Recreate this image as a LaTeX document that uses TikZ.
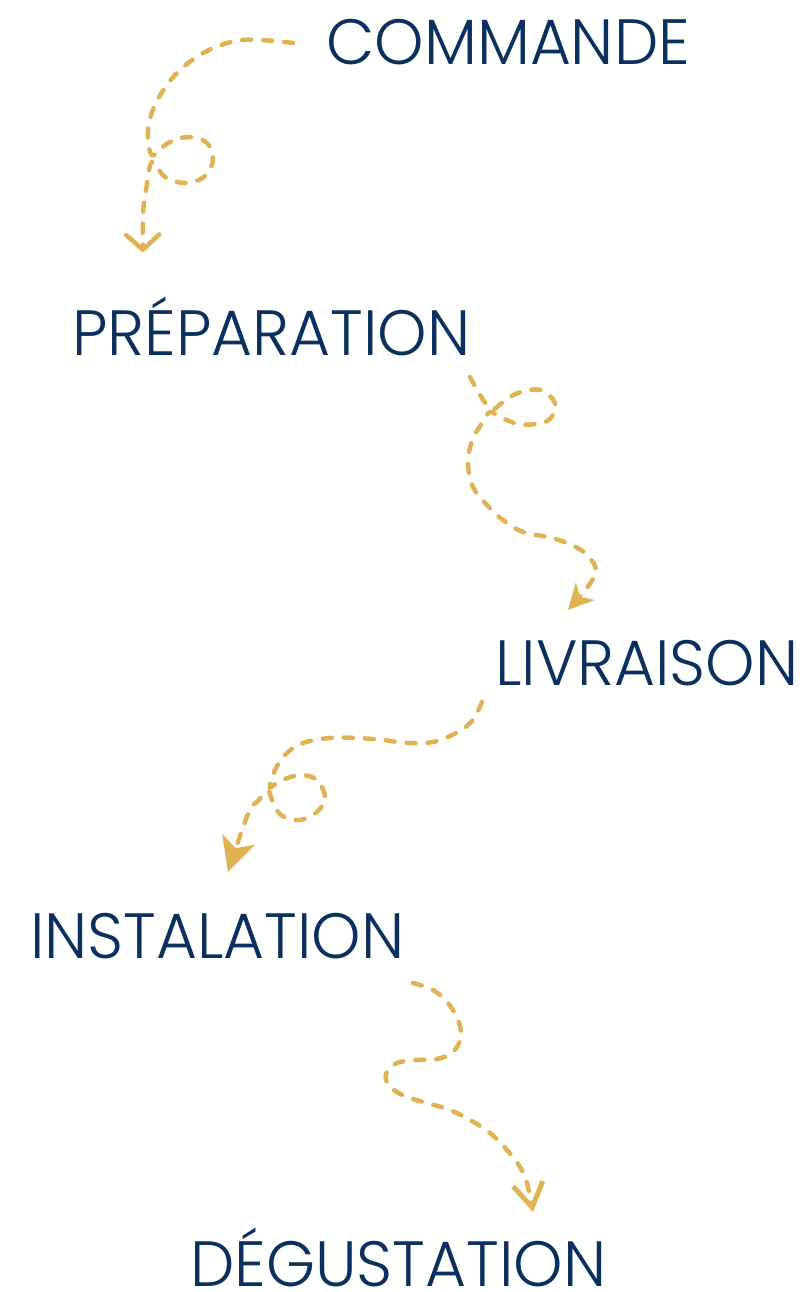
\documentclass[tikz,border=0pt]{standalone}
\usepackage{fontspec}
\setmainfont{Poppins}[UprightFont=* Light]
\usetikzlibrary{arrows.meta}
\definecolor{navy}{HTML}{0B2F5E}
\definecolor{gold}{HTML}{DFB353}
\newcommand{\steptext}[1]{\scalebox{0.982}[1]{#1}}
\tikzset{
  step label/.style={anchor=base west, inner sep=0pt, text=navy, font=\fontsize{64}{64}\selectfont},
  trail/.style={draw=gold, line width=4.5pt, line cap=round, dash pattern=on 9pt off 12pt},
}
\begin{document}
\begin{tikzpicture}[x=1pt,y=-1pt]
\useasboundingbox (0,0) rectangle (805,1292);
\node[step label] (commande) at (326,65) {\steptext{COMMANDE}};
\node[step label] (preparation) at (72,355) {\steptext{PRÉPARATION}};
\node[step label] (livraison) at (495,685) {\steptext{LIVRAISON}};
\node[step label] (installation) at (30,958) {\steptext{INSTALATION}};
\node[step label] (degustation) at (190,1286) {\steptext{DÉGUSTATION}};

\coordinate (a1s) at (293,43);
\coordinate (a1e) at (143,252);
\draw[trail, -{Straight Barb[round,length=15pt,width=33pt,line width=4.5pt]}]
  plot[smooth, tension=0.6] coordinates {(a1s) (243,40) (205,52) (175,75) (156,103) (148,130) (152,155) (168,143) (188,137) (207,143) (213,160) (204,177) (185,183) (165,177) (152,162) (146,190) (143,215) (a1e)};

\coordinate (a2s) at (470,377);
\coordinate (a2e) at (568,610);
\draw[trail, -{Stealth[length=25pt,width=25pt,inset=7pt]}]
  plot[smooth, tension=0.6] coordinates {(a2s) (484,401) (493,409) (503,402) (518,393) (540,390) (555,403) (550,419) (535,424) (518,424) (500,417) (490,412) (482,423) (472,441) (468,463) (473,487) (487,505) (503,520) (523,532) (547,537) (567,543) (587,555) (595,575) (a2e)};

\coordinate (a3s) at (482,702);
\coordinate (a3e) at (228,872);
\draw[trail, -{Stealth[length=34pt,width=34pt,inset=9pt]}]
  plot[smooth, tension=0.6] coordinates {(a3s) (472,721) (456,733) (433,742) (407,743) (383,740) (357,738) (330,738) (303,743) (286,754) (275,770) (270,787) (280,781) (300,775) (317,780) (325,797) (318,811) (300,820) (281,815) (272,800) (268,791) (258,801) (248,814) (a3e)};

\coordinate (a4s) at (413,983);
\coordinate (a4e) at (533,1212);
\draw[trail, -{Straight Barb[length=24pt,width=30pt,line width=5pt]}]
  plot[smooth, tension=0.6] coordinates {(a4s) (433,990) (448,1003) (458,1020) (461,1037) (453,1052) (437,1059) (417,1060) (397,1063) (386,1074) (390,1087) (407,1097) (427,1103) (450,1110) (470,1120) (490,1133) (507,1150) (520,1167) (527,1183) (a4e)};
\end{tikzpicture}
\end{document}
